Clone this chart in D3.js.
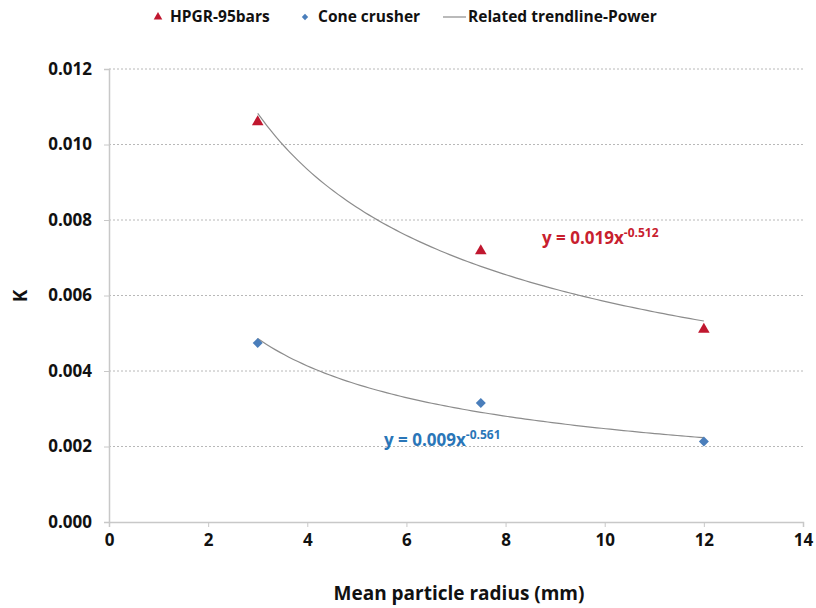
<!DOCTYPE html>
<html><head><meta charset="utf-8">
<script src="https://cdn.jsdelivr.net/npm/d3@7"></script>
<style>body{margin:0;background:#fff}svg{display:block}text{font-family:"Open Sans",sans-serif;font-weight:bold}</style>
</head><body><svg id="c" width="816" height="608"></svg>
<script>
const xValues = [3, 7.5, 12];
const hpgrValues = [0.0106, 0.00718, 0.0051];
const coneValues = [0.00474, 0.00315, 0.00213];
const hpgrTrend = [0.019, -0.512];
const coneTrend = [0.009, -0.561];
const xTicks = [0, 2, 4, 6, 8, 10, 12, 14];
const yTicks = [0, 0.002, 0.004, 0.006, 0.008, 0.010, 0.012];
const seriesNames = ["HPGR-95bars", "Cone crusher", "Related trendline-Power"];

const svg = d3.select("#c");
const x = d3.scaleLinear().domain([0, 14]).range([109, 803]);
const y = d3.scaleLinear().domain([0, 0.012]).range([522, 69]);

// gridlines
svg.append("g").selectAll("line").data(yTicks.filter(d => d > 0)).join("line")
  .attr("x1", x(0)).attr("x2", x(14)).attr("y1", d => y(d)).attr("y2", d => y(d))
  .attr("stroke", "#b8b8b8").attr("stroke-dasharray", "2,2").attr("stroke-width", 1);

// axes
const yAxis = svg.append("g").attr("transform", `translate(${x(0)},0)`)
  .call(d3.axisLeft(y).tickValues(yTicks).tickFormat(d3.format(".3f")).tickSize(5).tickPadding(12));
const xAxis = svg.append("g").attr("transform", `translate(0,${y(0)})`)
  .call(d3.axisBottom(x).tickValues(xTicks).tickFormat(d3.format("d")).tickSize(5).tickPadding(7));
[yAxis, xAxis].forEach(g => {
  g.select(".domain").attr("stroke", "#c8c8c8").attr("stroke-width", 1.5);
  g.selectAll(".tick line").attr("stroke", "#c8c8c8");
  g.selectAll(".tick text").attr("font-size", 17).attr("font-weight", "bold")
    .attr("font-family", "'Open Sans', sans-serif").attr("fill", "#111");
});

// trendlines
function trend(p) {
  const xs = d3.range(0, 101).map(i => 3 + i * 0.09);
  return xs.map(v => [v, p[0] * Math.pow(v, p[1])]);
}
const line = d3.line().x(d => x(d[0])).y(d => y(d[1]));
[hpgrTrend, coneTrend].forEach(p => {
  svg.append("path").attr("d", line(trend(p))).attr("fill", "none")
    .attr("stroke", "#8c8c8c").attr("stroke-width", 1.2);
});

// markers
const tri = d3.symbol().type(d3.symbolTriangle).size(58);
const dia = d3.symbol().type(d3.symbolSquare).size(50);
svg.append("g").selectAll("path").data(xValues.map((v, i) => [v, hpgrValues[i]])).join("path")
  .attr("d", tri).attr("transform", d => `translate(${x(d[0])},${y(d[1])})`).attr("fill", "#c0172f");
svg.append("g").selectAll("path").data(xValues.map((v, i) => [v, coneValues[i]])).join("path")
  .attr("d", dia).attr("transform", d => `translate(${x(d[0])},${y(d[1])}) rotate(45)`).attr("fill", "#4a7ebb");

// equations
function eq(tx, ty, coef, exp, color) {
  const t = svg.append("text").attr("x", tx).attr("y", ty).attr("fill", color).attr("font-size", 17);
  t.append("tspan").text(`y = ${coef}x`);
  t.append("tspan").attr("dy", -7).attr("font-size", 12).text(exp);
}
eq(542, 244, "0.019", "-0.512", "#c8202e");
eq(384, 446, "0.009", "-0.561", "#2a76b8");

// axis titles
svg.append("text").attr("transform", "translate(27,296) rotate(-90)").attr("text-anchor", "middle")
  .attr("font-size", 19).attr("fill", "#111").text("K");
svg.append("text").attr("x", 459).attr("y", 600).attr("text-anchor", "middle")
  .attr("font-size", 19).attr("fill", "#111").text("Mean particle radius (mm)");

// legend
const lg = svg.append("g");
lg.append("path").attr("d", d3.symbol().type(d3.symbolTriangle).size(32)).attr("transform", "translate(158,17)").attr("fill", "#c0172f");
lg.append("text").attr("x", 170).attr("y", 22).attr("font-size", 15.5).attr("fill", "#111").text(seriesNames[0]);
lg.append("path").attr("d", d3.symbol().type(d3.symbolSquare).size(20)).attr("transform", "translate(305,17) rotate(45)").attr("fill", "#4a7ebb");
lg.append("text").attr("x", 318).attr("y", 22).attr("font-size", 15.5).attr("fill", "#111").text(seriesNames[1]);
lg.append("line").attr("x1", 443).attr("x2", 466).attr("y1", 17).attr("y2", 17).attr("stroke", "#8c8c8c").attr("stroke-width", 1.2);
lg.append("text").attr("x", 468).attr("y", 22).attr("font-size", 15.5).attr("fill", "#111").text(seriesNames[2]);
</script></body></html>
